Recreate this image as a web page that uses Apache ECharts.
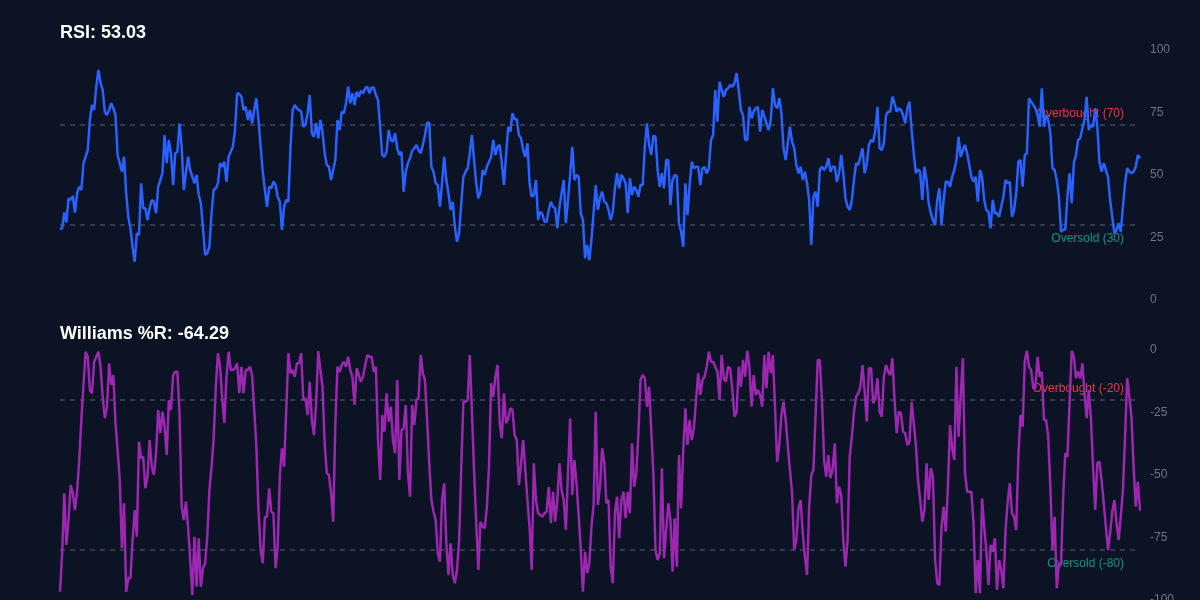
<!DOCTYPE html>
<html>
<head>
<meta charset="utf-8">
<title>RSI / Williams %R</title>
<script src="https://cdn.jsdelivr.net/npm/echarts@6/dist/echarts.min.js"></script>
<style>
html, body { margin: 0; padding: 0; background: #0b1325; }
#chart { width: 1200px; height: 600px; }
</style>
</head>
<body>
<div id="chart"></div>
<script>
// RSI readings, left to right
var rsiValues = [
    28.3, 28.7, 35, 31, 40.7, 40, 41.6, 35, 42.7, 45.3,
    44, 54.7, 57.3, 60, 72, 78, 76, 85.3, 92, 86.7,
    84, 75.3, 74, 76, 78.7, 76.7, 74, 58, 54.7, 51.3,
    57.3, 42.7, 33.3, 28.7, 21.3, 15.3, 26.7, 26, 46.7, 36.7,
    36.7, 32, 36.7, 40, 39.3, 34.7, 45.3, 48, 50.7, 66,
    54.7, 64, 58.7, 46, 58.7, 59.3, 70.7, 61.3, 44, 50.7,
    57.3, 52, 49.3, 46.7, 50, 42, 38.7, 28.7, 18, 18.7,
    21.3, 34.7, 44, 44.7, 46.7, 54.7, 53.3, 55.3, 47.3, 57.3,
    59.3, 61.3, 68, 82.7, 82.4, 81.3, 76, 77.3, 72, 76,
    70.7, 76, 80.7, 72, 61.3, 51.3, 44, 37.3, 45.3, 44.7,
    47.3, 46, 41.3, 39.3, 28, 37.3, 40, 39.3, 61.3, 76,
    78, 76.7, 76, 75.3, 69.3, 70, 74.7, 82, 66.7, 65.3,
    70.7, 64.7, 72, 67.3, 58.7, 54, 53.3, 48, 52, 56,
    72, 68, 75.3, 74.7, 78.7, 85.3,
    78.7, 82.7, 78, 83.3, 81.3, 83.7, 82.7, 84.7, 85.3, 82.7,
    85, 85, 82, 80, 69, 58, 57.3, 59.3, 68, 64, 63.3,
    66.7, 60.7, 58, 59.3, 43.3, 51.3, 54.7, 56.7, 59.7, 60.7,
    62, 60, 58.7, 62, 66, 70.9, 70.9, 53.3, 51.3, 46.7,
    46, 37.3, 46.7, 57.3, 48, 42.7, 36, 39.3, 29.3, 23.3,
    26.7, 38.7, 49.3, 51.3, 52.7, 58.7, 66, 56, 46.7, 40.7, 43.3,
    52, 50, 53.3, 55.3, 57.3, 64, 58, 61.3, 62, 54.7,
    46, 58, 69.3, 67.3, 74.7, 72.3, 72.3, 66, 64.7, 60, 57.3,
    62.7, 46.7, 41.3, 42, 48, 32, 35.3, 34.4, 31.3, 31.3,
    36, 39.3, 37.3, 36.7, 28.7, 37.3, 42.7, 48, 30.7, 40,
    50, 61.3, 48, 50, 49.3, 34.7, 32, 16.7, 22, 16,
    24, 35, 46, 36, 40.7, 43.3, 39.3, 38.7, 36,
    32, 35.3, 44.7, 50.7, 44.7, 50, 48.7, 46.7, 34.7, 48.7,
    42, 45.3, 44, 41.3, 46, 46, 61.3, 70.7, 62, 58,
    65.6, 65.3, 52, 45.3, 50.7, 44.7, 56, 56, 38, 48,
    50, 49.6, 30.7, 27.3, 21.3, 46.7, 34, 46, 55.3, 52.7,
    53.3, 53.3, 46, 52.7, 53.1, 50.7, 52.7, 64, 66, 84,
    71.3, 87.3, 84, 81.3, 84, 84.7, 86, 85.3, 86.7, 90.7,
    84, 76, 74, 64, 64, 77.3, 72.7, 75.3, 76.7, 77.3,
    67.3, 76, 73.3, 70.7, 68, 72, 84.7, 78, 76.7, 80.7,
    74.7, 60.7, 56, 62.7, 69.3, 63.3, 60.7, 54, 50.7, 53.3,
    48, 51.3, 46.7, 40, 22, 41.3, 43.3, 37.3, 52, 53.3,
    52, 53.3, 56.7, 51.3, 53.3, 53.3, 47.3, 50.7, 58, 50.7,
    40.7, 37.3, 36, 40, 48, 54.7, 54, 57.3, 60.7, 50.7,
    54.7, 62, 64, 63.3, 68, 77.3, 60.7,
    60, 62.7, 74, 75.3, 75.3, 81.3, 78.7, 75.3,
    76.7, 76, 74, 70.7, 76.7, 79.3, 68, 58.7, 50.7, 52.3,
    51.3, 40, 53.3, 48, 38.7, 34.7, 32, 30, 40, 44.7,
    30, 40, 47.3, 47.3, 45.3, 49.3, 52, 56, 65.3, 57.3,
    60, 62, 58.7, 54, 49.3, 47.3, 49.3, 39.3, 52, 49.3,
    40, 36, 35.3, 28.7, 40, 34.7, 34.7, 33.3, 37.3, 41.3,
    48, 46.7, 47.3, 33.3, 36, 42.7, 55.3, 56, 45.3, 58,
    58.7, 80.7, 79.3, 78, 76.7, 74, 69.3, 84.7, 69.3, 74,
    72, 66.7, 52.7, 52, 48, 41.3, 27.3, 28, 28.3, 41.3,
    50.7, 38.7, 54.7, 58, 64, 64.7, 68.7, 72, 81.3, 68,
    70, 69.3, 76.7, 69.3, 55.3, 51.3, 54.7, 52, 49.3, 40,
    33.3, 26.7, 28, 30.7, 27.3, 37.3, 46.7, 52.7,
    51.3, 50.7, 51.3, 53.3, 58, 56.7
];

// Williams %R readings, same bars
var wrValues = [
    -96.7, -81.3, -57.3, -78, -68, -54, -57.3, -64, -56.7, -44,
    -28, -14, -0.7, -2.7, -16, -17.3, -4.7, -2.7, -0.7, -6.7, -18.7,
    -27.3, -22.7, -5.3, -14, -10, -29.3, -40, -52, -79.3, -61.3, -96.7,
    -91.3, -91.3, -76, -64, -74.7, -36.7, -43.3, -42.7, -55.3, -50.7,
    -36, -46.7, -50, -41.3, -24, -33.3, -24.7, -30.7, -42, -20,
    -24, -10, -8.7, -8.7, -25.3, -62.7, -68, -60.7, -70.7, -84,
    -98, -74.7, -94.7, -75.3, -94.7, -87.3, -85.3, -74.7, -56, -46.7,
    -35.3, -14.7, -1.3, -6.7, -19.3, -29.3, -10.7, -0.7, -8, -8,
    -7.3, -5.3, -17.3, -6.7, -17.3, -8, -8, -6.7, -10, -24, -38.7,
    -64, -80, -85.3, -66.7, -66.7, -55.3, -64.7, -65.3, -87.3, -78.7,
    -50, -39.3, -46.7, -24, -1.3, -9.3, -8, -10.7, -5.3, -5.3, -1.3,
    -20, -19.3, -26, -12.7, -28, -34, -21.3, -0.5, -8, -14.7,
    -37.3, -49.3, -50, -57.3, -68.7, -29.3, -6.7, -8.7, -6, -4.7,
    -6.7, -2.7,
    -8, -10.7, -22, -7.3, -10, -12.7, -10.7, -6, -2, -2.7,
    -2.7, -8.7, -6.7, -36, -52, -26, -32.7, -17.3, -28.7, -22.7,
    -36, -41.3, -12, -52, -32, -31.3, -22, -49.3, -58.7, -22,
    -30, -20, -19.3, -2, -9.3, -12, -28, -45.3, -60, -64.7, -68,
    -81.3, -84.7, -60, -53.3, -77.3, -90, -77.3, -90, -93.3, -88,
    -76, -46.7, -20.7, -20.7, -20, -2, -25, -48, -69.3, -88, -68.7,
    -70.7, -71.3, -62.7, -46.7, -13.3, -18.7, -10.7, -6, -29.3, -35.3,
    -17.3, -29.3, -27.3, -23.3, -24, -34, -36, -54, -45.3, -36,
    -48, -60, -70.7, -88, -45.3, -60, -65.3, -66, -66.7, -65.3, -64.7,
    -54.7, -69.3, -56.7, -68.7, -60, -45.3, -56, -60, -72, -49.3,
    -27.3, -58, -44, -53.3, -66, -80, -96.7, -80.7, -89.3, -85.3, -70.7,
    -62, -24.7, -62, -54.7, -39.3, -44.7, -61.3, -60,
    -86.7, -93.3, -65.3, -58.7, -75.3, -60, -56.7, -67.3, -56.7, -65.3,
    -37.3, -54.7, -49.3, -33.3, -12, -10, -11.3, -22.7, -14.7, -32, -49.3,
    -80, -84, -81.3, -47.3, -83.3, -72, -61.3, -68, -88.7, -67.3,
    -86.7, -42, -63.3, -40, -23.3, -38, -28, -36, -31.3, -20, -9.3,
    -18, -12, -10.7, -6.7, -0.7, -4.7, -4.7, -6.7, -8.7, -20,
    -2, -11.3, -12.7, -6.7, -7.3, -16, -26.7, -24.7, -6.7, -14.7,
    -4, -10.7, -0.3, -6.7, -22.7, -10, -18, -16, -18, -22.7,
    -2, -15.3, -0.7, -9.3, -2, -23, -44.7, -38, -26, -20.7, -28,
    -38.7, -48, -57.3, -80, -76, -63.3, -60, -73.3, -82.7, -90, -62.7,
    -50, -48, -26, -4, -4, -20, -44, -50.7, -42, -51.3, -47.3,
    -37.3, -61.3, -54.7, -58, -76, -86.7, -76, -42.7, -34.7, -24.7,
    -18.7, -17.3, -14.7, -6, -16.7, -28.7, -7.3, -7.3, -21.3, -19.3,
    -11.3, -24.7,
    -26.7, -10.7, -6, -8.7, -10, -3.3, -20, -33.3, -24.7, -25.3,
    -32.7, -33.3, -38, -36.7, -20.7, -29.3, -38, -52, -60, -68.7, -64,
    -45.3, -60, -47.3, -50.7, -84, -93.3, -94, -70.7, -62.7, -72.7,
    -54.7, -30, -39.3, -44, -6.7, -34.7, -18, -3.3, -49.3, -56.7,
    -56.7, -56.7, -69.3, -97.3, -84, -97.3, -59.3, -70.7, -80, -94,
    -78, -80.7, -75.3, -96, -84, -88, -95.3, -72, -60.7, -53.3,
    -65.3, -66.7, -72, -42.7, -26, -30.7, -4.7, -0.3, -6.7, -8,
    -15.3, -15.3, -2.7, -10.7, -8.7, -28, -28, -34.7, -54.7, -80,
    -66.7, -95.3, -85.3, -86, -58.7, -41.3, -42.7, -21, -0.3, -2.7, -11.3,
    -8.7, -11.3, -5.3, -17.3, -27.3, -16, -27.3, -46.7, -64, -45.3,
    -44.7, -52, -61.3, -70.7, -80, -73.3, -64.7, -60, -69.3, -76,
    -66.7, -56, -34.7, -11.3, -18.7, -26.7, -46.7, -62.7, -52.7, -64.29
];

var bars = rsiValues.map(function (v, i) { return i; });

var rsiLevels = [70, 30];
var wrLevels = [-20, -80];
var rsiTitle = 'RSI: 53.03';
var wrTitle = 'Williams %R: -64.29';

var textFont = '"Liberation Sans", Arial, sans-serif';
var red = '#f23645';
var teal = '#089981';
var muted = '#6f7685';

function levelLines(levels, names) {
    return {
        silent: true,
        symbol: 'none',
        z: 1,
        lineStyle: {
            color: 'rgba(120,130,150,0.5)',
            type: [5, 5],
            width: 1.5
        },
        data: [{
            yAxis: levels[0],
            label: {
                formatter: names[0],
                position: 'insideEndTop',
                color: red,
                fontSize: 12,
                fontFamily: textFont,
                distance: [16, 5]
            }
        }, {
            yAxis: levels[1],
            label: {
                formatter: names[1],
                position: 'insideEndBottom',
                color: teal,
                fontSize: 12,
                fontFamily: textFont,
                distance: [16, 8]
            }
        }]
    };
}

function valueAxis(idx, min, max) {
    return {
        type: 'value',
        gridIndex: idx,
        position: 'right',
        min: min,
        max: max,
        interval: 25,
        axisLine: { show: false },
        axisTick: { show: false },
        splitLine: { show: false },
        axisLabel: {
            color: muted,
            fontSize: 12,
            fontFamily: textFont,
            margin: 10
        }
    };
}

var myChart = echarts.init(document.getElementById('chart'));

myChart.setOption({
    backgroundColor: '#0b1325',
    animation: false,
    title: [{
        text: rsiTitle,
        left: 60,
        top: 24,
        padding: 0,
        textStyle: { color: '#ffffff', fontSize: 18, fontWeight: 'bold', fontFamily: textFont }
    }, {
        text: wrTitle,
        left: 60,
        top: 325,
        padding: 0,
        textStyle: { color: '#ffffff', fontSize: 18, fontWeight: 'bold', fontFamily: textFont }
    }],
    grid: [
        { left: 60, right: 60, top: 50, height: 250, outerBoundsMode: 'none' },
        { left: 60, right: 60, top: 350, height: 250, outerBoundsMode: 'none' }
    ],
    xAxis: [0, 1].map(function (i) {
        return {
            type: 'category',
            gridIndex: i,
            data: bars,
            boundaryGap: false,
            show: false
        };
    }),
    yAxis: [valueAxis(0, 0, 100), valueAxis(1, -100, 0)],
    series: [{
        name: 'RSI',
        type: 'line',
        xAxisIndex: 0,
        yAxisIndex: 0,
        data: rsiValues,
        symbol: 'none',
        z: 10,
        lineStyle: { color: '#2962ff', width: 2.5 },
        markLine: levelLines(rsiLevels, ['Overbought (70)', 'Oversold (30)'])
    }, {
        name: 'Williams %R',
        type: 'line',
        xAxisIndex: 1,
        yAxisIndex: 1,
        data: wrValues,
        symbol: 'none',
        z: 10,
        lineStyle: { color: '#9c27b0', width: 2.5 },
        markLine: levelLines(wrLevels, ['Overbought (-20)', 'Oversold (-80)'])
    }]
});
</script>
</body>
</html>
